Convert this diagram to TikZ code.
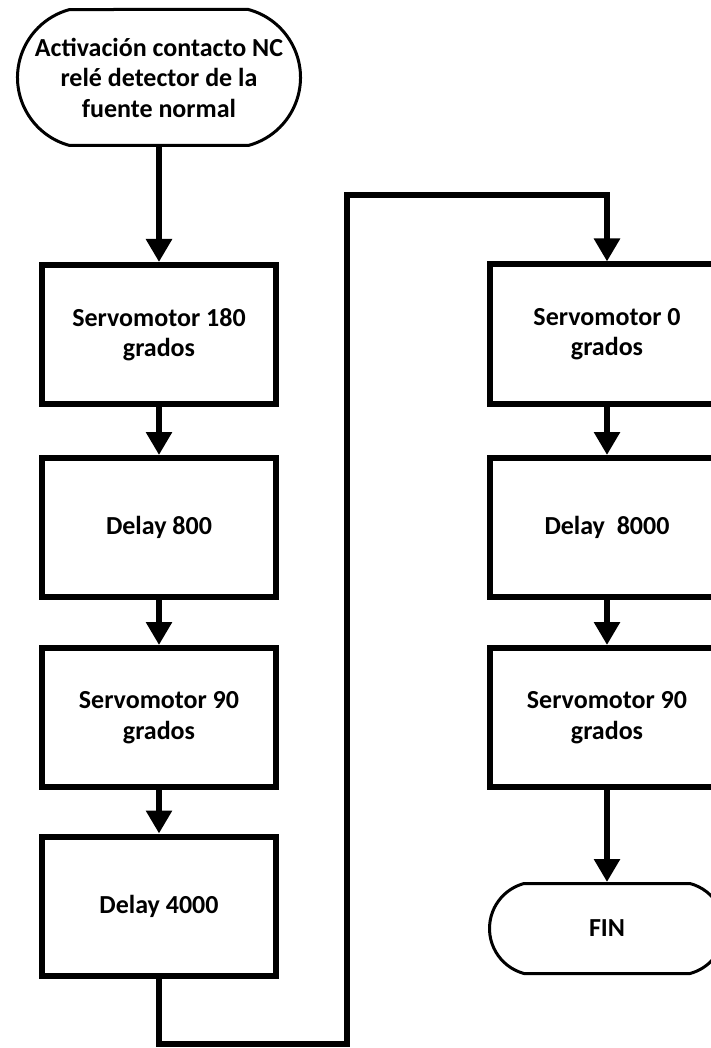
\documentclass[tikz,border=0pt]{standalone}
\usepackage{fontspec}
\setmainfont{Carlito}
\usetikzlibrary{arrows.meta,shapes.misc}
\begin{document}
\begin{tikzpicture}[x=1pt,y=-1pt,
  txt/.style={font=\fontsize{26}{30.5}\selectfont\bfseries, align=center, text=black},
  box/.style={txt, draw, line width=6pt, minimum width=234pt, minimum height=139pt, inner sep=0pt},
  term/.style={txt, draw, line width=3pt, rounded rectangle, rounded rectangle arc length=150, inner sep=0pt},
  conn/.style={line width=6pt, -{Triangle[length=23pt,width=25pt]}},
]
\clip (0,0) rectangle (711,1048);
\fill[white] (0,0) rectangle (711,1048);

\node[term, minimum width=283pt, minimum height=136pt] (start) at (159,77.5)
  {Activación contacto NC\\relé detector de la\\fuente normal};

\node[box] (b1) at (159,334.5) {Servomotor 180\\grados};
\node[box] (b2) at (159,527.5) {Delay 800};
\node[box] (b3) at (159,717.5) {Servomotor 90\\grados};
\node[box] (b4) at (159,906) {Delay 4000};

\node[box] (b5) at (607,334) {Servomotor 0\\grados};
\node[box] (b6) at (607,527.5) {Delay~ 8000};
\node[box] (b7) at (607,717.5) {Servomotor 90\\grados};
\node[term, minimum width=235pt, minimum height=90pt] (fin) at (607,928.5) {FIN};

\coordinate (cb) at (347,1044);
\coordinate (ct) at (347,195);

\draw[conn] (start.south) -- (b1.north);
\draw[conn] (b1.south) -- (b2.north);
\draw[conn] (b2.south) -- (b3.north);
\draw[conn] (b3.south) -- (b4.north);
\draw[conn] (b4.south) |- (cb) -- (ct) -| (b5.north);
\draw[conn] (b5.south) -- (b6.north);
\draw[conn] (b6.south) -- (b7.north);
\draw[conn] (b7.south) -- (fin.north);
\end{tikzpicture}
\end{document}
